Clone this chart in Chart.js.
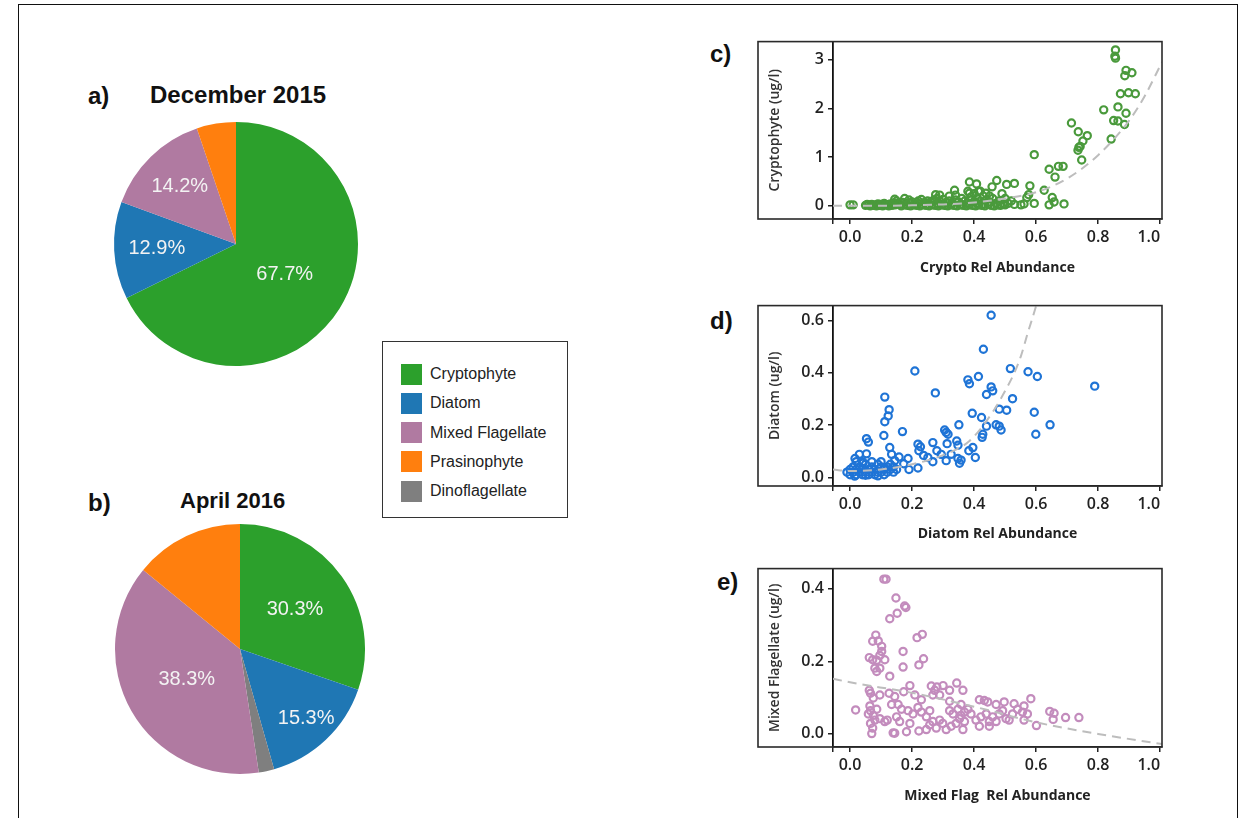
<!DOCTYPE html>
<html>
<head>
<meta charset="utf-8">
<script src="https://cdn.jsdelivr.net/npm/chart.js@4.4.1/dist/chart.umd.min.js"></script>
<style>
  html, body { margin: 0; padding: 0; background: #fff; }
  body { width: 1243px; height: 818px; position: relative; overflow: hidden;
         font-family: "Liberation Sans", Arial, sans-serif; color: #111; }
  .outer { position: absolute; left: 18px; top: 4px; width: 1220px; height: 900px;
           border: 1.5px solid #111; box-sizing: border-box; }
  .lbl { position: absolute; font-weight: bold; line-height: 1; white-space: nowrap; }
  canvas { position: absolute; display: block; }
  .legend { position: absolute; left: 382px; top: 341px; width: 186px; height: 177px;
            border: 1.5px solid #333; box-sizing: border-box; background: #fff; }
  .legend .row { position: absolute; left: 18px; height: 22px; display: flex; align-items: center; }
  .legend .sw { width: 21px; height: 21px; margin-right: 8px; }
  .legend .tx { font-size: 16px; color: #222; }
</style>
</head>
<body>
<div class="outer"></div>

<div class="lbl" style="left:88px;top:84px;font-size:24px;">a)</div>
<div class="lbl" style="left:150px;top:83px;font-size:24px;">December 2015</div>
<div class="lbl" style="left:88px;top:491px;font-size:24px;">b)</div>
<div class="lbl" style="left:180px;top:490px;font-size:22px;">April 2016</div>
<div class="lbl" style="left:710px;top:42px;font-size:24px;">c)</div>
<div class="lbl" style="left:710px;top:309px;font-size:24px;">d)</div>
<div class="lbl" style="left:717px;top:570px;font-size:24px;">e)</div>

<canvas id="pieDec" width="248" height="248" style="left:112px;top:120px;"></canvas>
<canvas id="pieApr" width="254" height="254" style="left:113px;top:522px;"></canvas>
<div class="legend" id="legend"></div>

<canvas id="scCrypto" width="444" height="252" style="left:756px;top:28px;"></canvas>
<canvas id="scDiatom" width="444" height="254" style="left:756px;top:292px;"></canvas>
<canvas id="scMixed" width="444" height="253" style="left:756px;top:555px;"></canvas>

<script>
// ---- pie data (slice order clockwise from 12 o'clock) ----
const pieCategories = ["Cryptophyte", "Diatom", "Dinoflagellate", "Mixed Flagellate", "Prasinophyte"];
const pieColors     = ["#2ca02c", "#1f77b4", "#7f7f7f", "#b07aa1", "#ff7f0e"];
const dec2015Values = [67.7, 12.9, 0, 14.2, 5.2];
const apr2016Values = [30.3, 15.3, 2.0, 38.3, 14.1];
const legendOrder   = ["Cryptophyte", "Diatom", "Mixed Flagellate", "Prasinophyte", "Dinoflagellate"];

// ---- scatter data: [relative abundance, concentration ug/l] ----
const cryptoPoints = [
  [0.00,0.02],[0.01,0.02],[0.05,0.01],[0.055,0.03],[0.06,0.02],[0.065,0.00],[0.07,0.03],[0.075,0.01],[0.08,0.02],
  [0.085,0.00],[0.09,0.04],[0.095,0.01],[0.10,0.03],[0.105,0.00],[0.11,0.05],[0.115,0.02],[0.12,0.02],[0.125,0.00],
  [0.13,0.04],[0.135,0.01],[0.14,0.06],[0.145,0.02],[0.15,0.05],[0.15,0.10],[0.16,0.03],[0.165,0.00],[0.17,0.07],
  [0.175,0.02],[0.18,0.04],[0.185,0.01],[0.19,0.12],[0.19,0.06],[0.195,0.00],[0.20,0.08],[0.205,0.02],[0.21,0.03],
  [0.215,0.01],[0.22,0.10],[0.22,0.05],[0.225,0.00],[0.23,0.13],[0.235,0.02],[0.24,0.07],[0.245,0.01],[0.25,0.04],
  [0.25,0.10],[0.255,0.00],[0.26,0.08],[0.265,0.02],[0.27,0.12],[0.275,0.01],[0.28,0.05],[0.28,0.15],[0.285,0.00],
  [0.29,0.09],[0.295,0.02],[0.30,0.03],[0.30,0.13],[0.305,0.01],[0.31,0.07],[0.315,0.00],[0.32,0.20],[0.32,0.10],
  [0.325,0.02],[0.33,0.05],[0.335,0.01],[0.34,0.22],[0.34,0.12],[0.345,0.00],[0.35,0.08],[0.355,0.02],[0.36,0.15],
  [0.36,0.03],[0.365,0.01],[0.37,0.10],[0.375,0.00],[0.38,0.30],[0.38,0.06],[0.385,0.02],[0.39,0.18],[0.39,0.12],
  [0.395,0.01],[0.40,0.09],[0.40,0.25],[0.405,0.00],[0.41,0.05],[0.41,0.15],[0.415,0.02],[0.42,0.30],[0.42,0.10],
  [0.425,0.01],[0.43,0.20],[0.43,0.04],[0.435,0.00],[0.44,0.12],[0.445,0.03],[0.45,0.08],[0.45,0.20],[0.455,0.01],
  [0.46,0.15],[0.465,0.00],[0.47,0.05],[0.475,0.02],[0.48,0.10],[0.485,0.01],[0.49,0.25],[0.495,0.04],[0.50,0.02],
  [0.50,0.15],[0.51,0.05],[0.52,0.10],[0.53,0.03],
  [0.144,0.135],[0.176,0.15],[0.276,0.23],[0.289,0.22],[0.337,0.32],[0.385,0.26],[0.414,0.30],[0.438,0.26],
  [0.385,0.49],[0.408,0.45],[0.458,0.39],[0.473,0.52],[0.505,0.44],[0.53,0.46],
  [0.551,0.02],[0.561,0.04],[0.57,0.17],[0.576,0.23],[0.58,0.41],[0.594,0.05],[0.594,1.05],[0.626,0.32],
  [0.642,0.02],[0.642,0.75],[0.652,0.17],[0.658,0.08],[0.661,0.59],[0.672,0.81],[0.687,0.81],[0.69,0.04],
  [0.714,1.70],[0.736,1.52],[0.765,1.44],[0.751,1.33],[0.742,1.22],[0.738,1.20],[0.735,1.14],[0.747,0.94],
  [0.818,1.97],[0.842,1.37],[0.85,1.75],[0.864,1.74],[0.885,1.67],[0.864,2.03],[0.89,1.90],[0.872,2.30],
  [0.898,2.32],[0.92,2.30],[0.89,2.78],[0.909,2.73],[0.886,2.67],[0.856,3.20],[0.854,3.07],[0.856,3.03]
];
const cryptoFit = [
  [-0.055,0.0],[0.0,0.0],[0.2,0.01],[0.3,0.03],[0.4,0.07],[0.5,0.15],[0.6,0.28],[0.7,0.56],
  [0.8,1.04],[0.9,1.75],[0.95,2.25],[1.006,2.95]
];

const diatomPoints = [
  [0.455,0.62],[0.43,0.49],[0.209,0.407],[0.517,0.416],[0.574,0.404],[0.604,0.386],[0.789,0.349],
  [0.38,0.373],[0.385,0.358],[0.414,0.386],[0.455,0.346],[0.46,0.331],[0.44,0.317],[0.524,0.301],
  [0.275,0.323],[0.112,0.307],[0.126,0.259],[0.123,0.235],[0.112,0.213],[0.481,0.261],[0.505,0.257],
  [0.394,0.245],[0.424,0.229],[0.594,0.249],[0.645,0.201],[0.599,0.165],[0.351,0.201],[0.471,0.201],
  [0.481,0.196],[0.487,0.181],[0.44,0.196],[0.428,0.165],[0.426,0.153],[0.169,0.175],[0.109,0.16],
  [0.053,0.148],[0.059,0.135],[0.305,0.181],[0.31,0.172],[0.316,0.165],[0.219,0.127],[0.227,0.117],
  [0.267,0.133],[0.313,0.129],[0.344,0.139],[0.348,0.123],[0.128,0.114],[0.134,0.088],[0.396,0.114],
  [0.383,0.102],[0.404,0.076],[0.28,0.102],[0.294,0.088],[0.326,0.088],[0.237,0.084],[0.251,0.076],
  [0.267,0.06],[0.222,0.102],[0.348,0.072],[0.358,0.066],[0.353,0.054],[0.31,0.064],[0.187,0.072],
  [0.19,0.03],[0.219,0.036],[0.158,0.078],[0.173,0.052],[0.144,0.064],[0.03,0.088],[0.016,0.072],
  [0.053,0.09],[0.041,0.054],
  [-0.01,0.02],[0.0,0.01],[0.0,0.03],[0.01,0.02],[0.01,0.04],[0.02,0.01],[0.02,0.03],[0.02,0.06],
  [0.03,0.02],[0.03,0.04],[0.04,0.01],[0.04,0.03],[0.05,0.02],[0.05,0.05],[0.06,0.01],[0.06,0.03],
  [0.07,0.02],[0.07,0.04],[0.08,0.01],[0.08,0.03],[0.09,0.02],[0.09,0.05],[0.10,0.02],[0.10,0.04],
  [0.11,0.03],[0.11,0.01],[0.12,0.02],[0.12,0.04],[0.13,0.03],[0.13,0.05],[0.14,0.02],[0.14,0.04],
  [0.15,0.03],[0.07,0.06],[0.04,0.06],[0.10,0.06],[0.015,0.005],[0.05,0.008],[0.09,0.006]
];
const diatomFit = [
  [-0.055,0.03],[0.0,0.024],[0.1,0.03],[0.2,0.05],[0.3,0.085],[0.385,0.139],[0.46,0.25],
  [0.503,0.337],[0.529,0.398],[0.551,0.464],[0.572,0.548],[0.601,0.66],[0.61,0.70]
];

const mixedPoints = [
  [0.109,0.426],[0.116,0.426],[0.148,0.374],[0.176,0.352],[0.18,0.348],[0.152,0.332],[0.128,0.317],
  [0.216,0.265],[0.233,0.274],[0.083,0.272],[0.073,0.255],[0.091,0.256],[0.102,0.241],[0.102,0.227],
  [0.096,0.216],[0.171,0.227],[0.062,0.21],[0.073,0.204],[0.086,0.203],[0.112,0.204],[0.237,0.207],
  [0.222,0.19],[0.171,0.184],[0.08,0.181],[0.096,0.181],[0.086,0.172],[0.128,0.159],
  [0.062,0.120],[0.066,0.112],[0.075,0.099],[0.096,0.107],[0.126,0.112],[0.144,0.103],[0.173,0.116],
  [0.193,0.133],[0.209,0.107],[0.230,0.094],[0.262,0.132],[0.273,0.120],[0.280,0.129],[0.300,0.133],
  [0.321,0.120],[0.344,0.140],[0.364,0.120],[0.267,0.107],[0.289,0.107],[0.321,0.090],[0.358,0.081],
  [0.066,0.064],[0.075,0.051],[0.080,0.038],[0.096,0.042],[0.112,0.034],[0.120,0.038],[0.066,0.029],
  [0.073,0.016],[0.070,0.001],[0.139,0.003],[0.144,0.002],[0.182,0.006],[0.222,0.008],[0.246,0.012],
  [0.257,0.025],[0.267,0.034],[0.278,0.016],[0.289,0.038],[0.299,0.029],[0.310,0.012],[0.326,0.021],
  [0.342,0.029],[0.353,0.042],[0.364,0.012],[0.369,0.034],[0.321,0.064],[0.332,0.055],[0.348,0.068],
  [0.358,0.051],[0.369,0.060],[0.380,0.068],[0.134,0.081],[0.155,0.081],[0.166,0.068],[0.187,0.064],
  [0.203,0.055],[0.219,0.073],[0.230,0.060],[0.246,0.047],[0.257,0.064],[0.193,0.029],[0.160,0.034],
  [0.150,0.047],[0.390,0.055],[0.406,0.038],[0.422,0.047],[0.439,0.055],[0.449,0.034],[0.460,0.047],
  [0.481,0.055],[0.492,0.064],[0.503,0.042],[0.524,0.055],[0.540,0.068],[0.556,0.060],[0.572,0.055],
  [0.561,0.038],[0.513,0.038],[0.471,0.034],[0.417,0.021],[0.449,0.021],[0.417,0.094],[0.433,0.092],
  [0.444,0.088],[0.471,0.081],[0.497,0.088],[0.529,0.083],[0.561,0.077],[0.583,0.097],[0.018,0.066],
  [0.601,0.023],[0.644,0.062],[0.658,0.057],[0.655,0.040],[0.695,0.045],[0.738,0.045],
  [0.064,0.077],[0.086,0.068],[0.059,0.055]
];
const mixedFit = [
  [-0.055,0.152],[0.0,0.142],[0.2,0.113],[0.4,0.075],[0.6,0.032],[0.8,0.0],[1.006,-0.028]
];

// ---- axis ticks ----
const relAbundanceTicks = [0, 0.2, 0.4, 0.6, 0.8, 1.0];
const cryptoYTicks = [0, 1, 2, 3];
const diatomYTicks = [0, 0.2, 0.4, 0.6];
const mixedYTicks  = [0, 0.2, 0.4];

Chart.defaults.font.family = '"Liberation Sans", Arial, sans-serif';
Chart.defaults.animation = false;

// percentage labels inside the larger pie slices (radius factor 0 = no label)
const sliceLabels = {
  id: 'sliceLabels',
  afterDatasetsDraw(chart, args, opts) {
    const meta = chart.getDatasetMeta(0);
    const values = chart.data.datasets[0].data;
    const ctx = chart.ctx;
    ctx.save();
    ctx.font = '20px "Liberation Sans", Arial, sans-serif';
    ctx.fillStyle = '#f3f3f3';
    ctx.textAlign = 'center';
    ctx.textBaseline = 'middle';
    meta.data.forEach((arc, i) => {
      const v = values[i];
      const f = opts.radius[i];
      if (!f || v <= 0) return;
      const p = arc.getProps(['x', 'y', 'startAngle', 'endAngle', 'outerRadius'], true);
      const mid = (p.startAngle + p.endAngle) / 2;
      const r = p.outerRadius * f;
      ctx.fillText(v.toFixed(1) + '%', p.x + Math.cos(mid) * r, p.y + Math.sin(mid) * r);
    });
    ctx.restore();
  }
};

function makePie(id, values, radii) {
  return new Chart(document.getElementById(id), {
    type: 'pie',
    data: {
      labels: pieCategories,
      datasets: [{ data: values, backgroundColor: pieColors, borderWidth: 0 }]
    },
    options: {
      responsive: false,
      devicePixelRatio: 1,
      layout: { padding: 2 },
      plugins: {
        legend: { display: false },
        tooltip: { enabled: false },
        sliceLabels: { radius: radii }
      }
    },
    plugins: [sliceLabels]
  });
}

makePie('pieDec', dec2015Values, [0.47, 0.65, 0, 0.66, 0]);
makePie('pieApr', apr2016Values, [0.54, 0.77, 0, 0.49, 0]);

// legend box
const legendEl = document.getElementById('legend');
legendOrder.forEach((name, i) => {
  const row = document.createElement('div');
  row.className = 'row';
  row.style.top = (21 + i * 29.3) + 'px';
  const sw = document.createElement('div');
  sw.className = 'sw';
  sw.style.background = pieColors[pieCategories.indexOf(name)];
  const tx = document.createElement('div');
  tx.className = 'tx';
  tx.textContent = name;
  row.appendChild(sw);
  row.appendChild(tx);
  legendEl.appendChild(row);
});

// outer box that wraps the y-axis title and the plot area
const panelFrame = {
  id: 'panelFrame',
  afterDraw(chart, args, opts) {
    const { ctx, chartArea: a } = chart;
    ctx.save();
    ctx.strokeStyle = '#2a2a2a';
    ctx.lineWidth = 1.6;
    ctx.strokeRect(a.left - opts.extendLeft, a.top, a.right - a.left + opts.extendLeft, a.bottom - a.top);
    ctx.restore();
  }
};

const tickFont = { family: '"Open Sans", sans-serif', size: 16, weight: '600' };

function makeScatter(id, pts, fit, color, cfg) {
  const toXY = arr => arr.map(([x, y]) => ({ x, y }));
  return new Chart(document.getElementById(id), {
    type: 'scatter',
    data: {
      datasets: [
        {
          data: toXY(fit),
          showLine: true,
          borderColor: '#bdbdbd',
          borderWidth: 2,
          borderDash: [9, 6],
          pointRadius: 0,
          cubicInterpolationMode: 'monotone',
          tension: 0.4,
          order: 0
        },
        {
          data: toXY(pts),
          pointStyle: 'circle',
          pointRadius: 3.6,
          pointBorderWidth: 2.2,
          borderColor: color,
          backgroundColor: 'rgba(255,255,255,0)',
          order: 1
        }
      ]
    },
    options: {
      responsive: false,
      devicePixelRatio: 1,
      layout: { padding: { left: 2, top: 3, right: 38, bottom: 0 } },
      plugins: {
        legend: { display: false },
        tooltip: { enabled: false },
        panelFrame: { extendLeft: 75 }
      },
      scales: {
        x: {
          type: 'linear',
          min: -0.055, max: 1.006,
          afterBuildTicks: s => { s.ticks = [{ value: -0.055 }].concat(relAbundanceTicks.map(v => ({ value: v }))); },
          afterFit: s => { s.height = cfg.xAxisHeight; },
          ticks: {
            align: 'inner',
            padding: 4,
            color: '#222',
            font: tickFont,
            callback: v => (v < 0 ? '' : v.toFixed(1))
          },
          grid: { display: true, drawOnChartArea: false, drawTicks: true, tickLength: 5, color: '#222', lineWidth: 1.5 },
          border: { display: true, color: '#222', width: 1.6 },
          title: {
            display: true, text: cfg.xTitle, color: '#222',
            font: { family: '"Open Sans", sans-serif', size: 14, weight: 'bold' },
            padding: { top: 0, bottom: 4 }
          }
        },
        y: {
          type: 'linear',
          min: cfg.yMin, max: cfg.yMax,
          afterBuildTicks: s => { s.ticks = cfg.yTicks.map(v => ({ value: v })); },
          afterFit: s => { s.width = 75; },
          ticks: {
            padding: 4,
            color: '#222',
            font: tickFont,
            callback: v => v.toFixed(cfg.yDigits)
          },
          grid: { display: true, drawOnChartArea: false, drawTicks: true, tickLength: 5, color: '#222', lineWidth: 1.5 },
          border: { display: true, color: '#111', width: 1.8 },
          title: {
            display: true, text: cfg.yTitle, color: '#333',
            font: { family: '"Open Sans", sans-serif', size: 14, weight: '600' },
            padding: { top: 9, bottom: 0 }
          }
        }
      }
    },
    plugins: [panelFrame]
  });
}

makeScatter('scCrypto', cryptoPoints, cryptoFit, '#4a9a3c', {
  xTitle: 'Crypto Rel Abundance', yTitle: 'Cryptophyte (ug/l)',
  yMin: -0.27, yMax: 3.37, yTicks: cryptoYTicks, yDigits: 0, xAxisHeight: 61
});
makeScatter('scDiatom', diatomPoints, diatomFit, '#1f74d6', {
  xTitle: 'Diatom Rel Abundance', yTitle: 'Diatom (ug/l)',
  yMin: -0.033, yMax: 0.657, yTicks: diatomYTicks, yDigits: 1, xAxisHeight: 60
});
makeScatter('scMixed', mixedPoints, mixedFit, '#c38cbd', {
  xTitle: 'Mixed Flag  Rel Abundance', yTitle: 'Mixed Flagellate (ug/l)',
  yMin: -0.036, yMax: 0.455, yTicks: mixedYTicks, yDigits: 1, xAxisHeight: 61
});
</script>
</body>
</html>
